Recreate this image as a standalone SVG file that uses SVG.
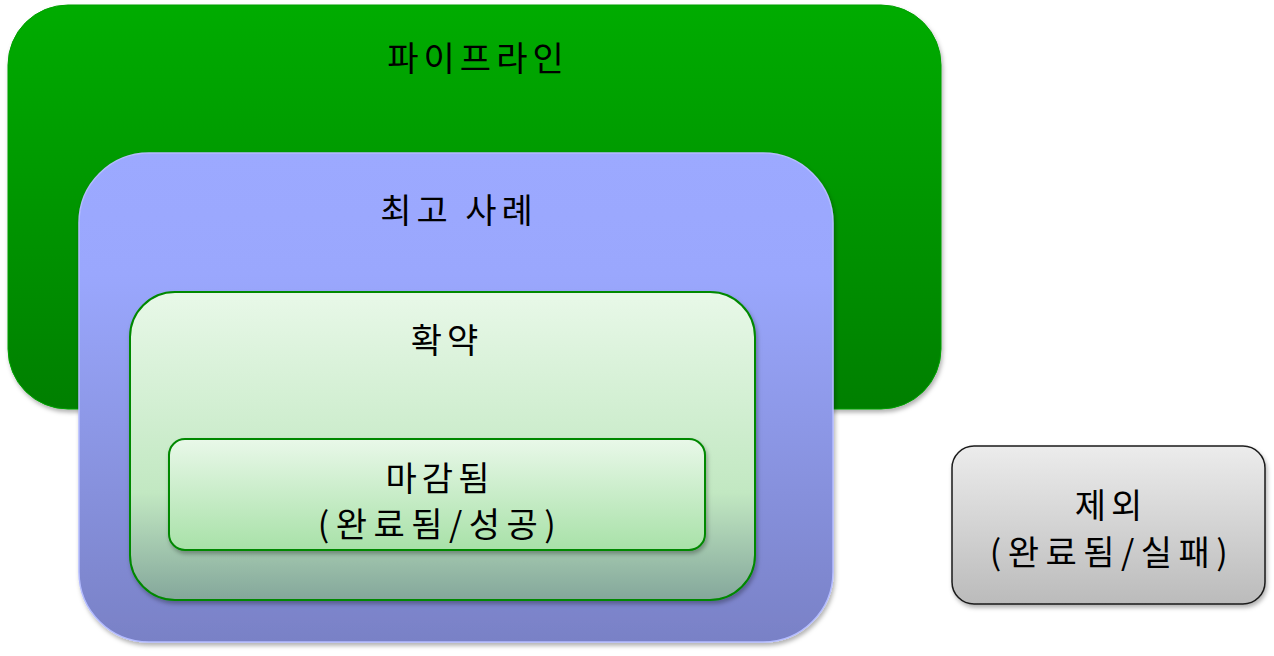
<svg xmlns="http://www.w3.org/2000/svg" width="1274" height="656" viewBox="0 0 1274 656">
<style>
text{font-family:"Noto Sans CJK KR","Noto Sans",sans-serif;font-size:34px;fill:#000;text-anchor:middle;dominant-baseline:central;letter-spacing:5px}
text.p{letter-spacing:6.5px}
</style>
<defs>
<linearGradient id="gGreen" x1="0" y1="0" x2="0" y2="1"><stop offset="0" stop-color="#00AC00"/><stop offset="1" stop-color="#007F00"/></linearGradient>
<linearGradient id="gBlue" x1="0" y1="0" x2="0" y2="1"><stop offset="0" stop-color="#9CA9FF"/><stop offset="0.25" stop-color="#9AA7FD"/><stop offset="1" stop-color="#7981C6"/></linearGradient>
<linearGradient id="gPale" x1="0" y1="0" x2="0" y2="1"><stop offset="0" stop-color="#E8F8E8"/><stop offset="0.65" stop-color="#C2E8C2"/><stop offset="1" stop-color="#84A79B"/></linearGradient>
<linearGradient id="gInner" x1="0" y1="0" x2="0" y2="1"><stop offset="0" stop-color="#E9F8E9"/><stop offset="1" stop-color="#A8E1A8"/></linearGradient>
<linearGradient id="gGray" x1="0" y1="0" x2="0" y2="1"><stop offset="0" stop-color="#ECECEC"/><stop offset="1" stop-color="#BBBBBB"/></linearGradient>
<filter id="sh" x="-5%" y="-5%" width="110%" height="115%"><feDropShadow dx="1.5" dy="3" stdDeviation="2" flood-color="#000" flood-opacity="0.3"/></filter>
</defs>
<g id="pipeline">
<rect x="8" y="5" width="933" height="404" rx="60" ry="60" fill="url(#gGreen)" stroke="#00A000" stroke-width="1" filter="url(#sh)"/>
<text x="478" y="56">파이프라인</text>
</g>
<g id="best-practice">
<rect x="79" y="153" width="754" height="489" rx="70" ry="70" fill="url(#gBlue)" stroke="#B4BCFF" stroke-width="1.5" filter="url(#sh)"/>
<text x="459" y="208">최고 사례</text>
</g>
<g id="commitment">
<rect x="130" y="292" width="625" height="308" rx="45" ry="45" fill="url(#gPale)" stroke="#008800" stroke-width="2" filter="url(#sh)"/>
<text x="447" y="338">확약</text>
</g>
<g id="closed">
<rect x="169" y="439" width="536" height="111" rx="16" ry="16" fill="url(#gInner)" stroke="#008800" stroke-width="2" filter="url(#sh)"/>
<text x="440" y="476">마감됨</text>
<text class="p" x="440" y="522">(완료됨/성공)</text>
</g>
<g id="excluded">
<rect x="952" y="446" width="313" height="158" rx="22" ry="22" fill="url(#gGray)" stroke="#1A1A1A" stroke-width="1.5" filter="url(#sh)"/>
<text x="1111" y="503">제외</text>
<text class="p" x="1112" y="550">(완료됨/실패)</text>
</g>
<g id="connectors"/>
</svg>
